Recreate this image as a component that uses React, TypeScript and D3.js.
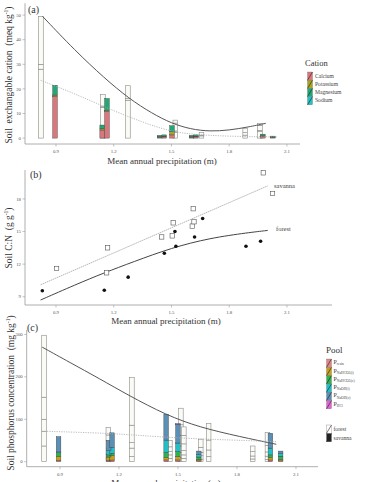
import React from "react";
import * as d3 from "d3";

const FONT = "'Liberation Serif', 'DejaVu Serif', serif";

// ---- (a) exchangeable cations ----
const cationNames = ["Calcium", "Potassium", "Magnesium", "Sodium"];
const cationColors = ["#d8777c", "#a9a324", "#22a877", "#26bfc2"];
const forestCationPrecip = [0.822, 1.144, 1.274, 1.52, 1.656, 1.883, 1.96];
const forestCalcium = [28, 12.5, 15.4, 2.4, 0.9, 1.2, 2.6];
const forestPotassium = [2, 0.5, 0.7, 0.5, 0.3, 1.0, 0.5];
const forestMagnesium = [19.5, 4.8, 5.2, 3.2, 1.1, 1.8, 2.1];
const forestSodium = [0, 0, 0, 1.2, 0, 0, 0.8];
const savannaCationPrecip = [0.895, 1.14, 1.165, 1.44, 1.462, 1.503, 1.605, 1.627, 1.975, 2.027];
const savannaCalcium = [16.8, 3.3, 10.7, 0.4, 0.5, 1.3, 0.4, 0.5, 0.6, 0.3];
const savannaPotassium = [0.7, 0.5, 0.5, 0.2, 0.2, 1.3, 0.2, 0.2, 0.3, 0.1];
const savannaMagnesium = [4.0, 1.5, 4.9, 0.5, 0.6, 2.4, 0.5, 0.6, 0.7, 0.4];
const savannaSodium = [0, 0, 0, 0, 0, 0, 0, 0, 0, 0];
const forestCationFitPrecip = [0.83, 1.0, 1.15, 1.28, 1.4, 1.5, 1.6, 1.7, 1.8, 1.9, 1.99];
const forestCationFit = [49.5, 35.5, 24.5, 16, 10, 6, 3.6, 2.7, 3.2, 4.5, 6.0];
const savannaCationFitPrecip = [0.82, 1.0, 1.2, 1.4, 1.5, 1.6, 1.8, 2.0, 2.05];
const savannaCationFit = [23.5, 18, 11, 5, 2.8, 1.5, 0.7, 0.5, 0.5];

// ---- (b) soil C:N ----
const savannaCnPrecip = [0.903, 1.163, 1.168, 1.449, 1.504, 1.509, 1.608, 1.617, 1.613, 1.977, 2.025];
const savannaCn = [11.6, 11.2, 13.5, 14.5, 14.6, 15.8, 15.5, 15.9, 17.1, 20.4, 18.5];
const forestCnPrecip = [0.829, 1.151, 1.275, 1.463, 1.518, 1.523, 1.62, 1.662, 1.887, 1.963];
const forestCn = [9.55, 9.6, 10.8, 13.0, 15.0, 13.65, 14.5, 16.2, 13.65, 14.1];
const savannaCnFitPrecip = [0.82, 2.0];
const savannaCnFit = [10.1, 19.2];
const forestCnFitPrecip = [0.82, 1.0, 1.15, 1.3, 1.5, 1.7, 1.9, 2.0];
const forestCnFit = [8.7, 10.1, 11.2, 12.2, 13.5, 14.4, 14.9, 15.1];

// ---- (c) soil phosphorus ----
const poolSubs = ["resin", "NaHCO3(i)", "NaHCO3(o)", "NaOH(i)", "NaOH(o)", "HCl"];
const poolColors = ["#e2868c", "#c9a01a", "#2eb34d", "#22bfc7", "#5b8fb5", "#e263d2"];
const forestPPrecip = [0.819, 1.146, 1.266, 1.459, 1.515, 1.53, 1.616, 1.656, 1.88, 1.955];
const forestPResin = [37, 8, 12, 8, 10, 8, 6, 12, 6.4, 5];
const forestPBicarbI = [34, 10, 20, 8, 12, 8, 8, 15.6, 7, 8];
const forestPBicarbO = [29, 14, 13, 7.6, 15, 10, 8, 23.4, 10.2, 10];
const forestPHydroxI = [52, 17, 41, 11.4, 25, 16, 12, 39.5, 13.4, 15];
const forestPHydroxO = [146, 14, 112, 14.5, 25, 20, 19, 0, 0, 31];
const forestPHcl = [0, 18, 0, 0, 39, 20, 0, 0, 0, 0];
const savannaPPrecip = [0.893, 1.148, 1.165, 1.44, 1.5, 1.606, 1.97, 2.022];
const savannaPResin = [3, 3, 4, 4, 4, 2, 4, 2];
const savannaPBicarbI = [9, 8, 10, 6, 8, 3, 6, 3];
const savannaPBicarbO = [9, 5, 6, 12, 12, 6, 6, 8];
const savannaPHydroxI = [2, 10, 14, 29, 20, 6, 16, 6];
const savannaPHydroxO = [36, 24, 34, 61, 44, 8, 35, 6];
const savannaPHcl = [0, 0, 0, 0, 2, 0, 0, 0];
const forestPFitPrecip = [0.81, 0.95, 1.1, 1.25, 1.44, 1.61, 1.815, 2.0];
const forestPFit = [270, 234, 196, 156, 110, 81, 59, 41];
const savannaPFitPrecip = [0.81, 1.15, 1.3, 1.5, 1.7, 1.85, 2.0];
const savannaPFit = [72, 67, 62, 56, 52, 50, 47];

const precipTicks = [0.9, 1.2, 1.5, 1.8, 2.1];

function StackedBars({ precip, parts, colors, x, y, width, forest }: any) {
  const rows = precip.map((p: number, i: number) => {
    const r: any = { p };
    parts.forEach((arr: number[], k: number) => (r["k" + k] = arr[i]));
    return r;
  });
  const keys = parts.map((_: any, k: number) => "k" + k);
  const series = d3.stack().keys(keys)(rows);
  return (
    <g>
      {series.map((s: any, k: number) =>
        s.map((d: any, i: number) => {
          const h = y(d[0]) - y(d[1]);
          if (h <= 0.01) return null;
          return (
            <rect
              key={k + "-" + i}
              x={x(rows[i].p) - width / 2}
              y={y(d[1])}
              width={width}
              height={h}
              fill={forest ? "#fbfbf6" : colors[k]}
              stroke={forest ? "#8a8a8a" : "#3a3a3a"}
              strokeWidth={forest ? 0.6 : 0.4}
            />
          );
        })
      )}
    </g>
  );
}

function Axes({ x, y, yTicks }: any) {
  const [x0, x1] = x.range();
  const [y1, y0] = y.range();
  return (
    <g fontFamily={FONT} fill="#555">
      <line x1={x0} x2={x0} y1={y0} y2={y1} stroke="#9a9a9a" strokeWidth={0.8} />
      <line x1={x0} x2={x1} y1={y1} y2={y1} stroke="#9a9a9a" strokeWidth={0.8} />
      {yTicks.map((t: number) => (
        <g key={"y" + t}>
          <line x1={x0 - 2.5} x2={x0} y1={y(t)} y2={y(t)} stroke="#9a9a9a" strokeWidth={0.6} />
          <text x={x0 - 4} y={y(t) + 1.6} fontSize={4.8} textAnchor="end">{t}</text>
        </g>
      ))}
      {precipTicks.map((t) => (
        <g key={"x" + t}>
          <line x1={x(t)} x2={x(t)} y1={y1} y2={y1 + 2.5} stroke="#9a9a9a" strokeWidth={0.6} />
          <text x={x(t)} y={y1 + 9} fontSize={4.8} textAnchor="middle">{t.toFixed(1)}</text>
        </g>
      ))}
    </g>
  );
}

function XTitle({ cx, y }: any) {
  return (
    <text x={cx} y={y} fontFamily={FONT} fontSize={9} fill="#333" textAnchor="middle">
      Mean annual precipitation (m)
    </text>
  );
}

function YTitle({ x, cy, main, unit }: any) {
  return (
    <text
      transform={`translate(${x},${cy}) rotate(-90)`}
      fontFamily={FONT}
      fontSize={9.5}
      fill="#333"
      textAnchor="middle"
      style={{ whiteSpace: "pre" }}
    >
      {main + "  (" + unit}
      <tspan fontSize={5.5} dy={-3.5}>-1</tspan>
      <tspan dy={3.5}>)</tspan>
    </text>
  );
}

function Key({ x, y, w, h, fill }: any) {
  return (
    <g>
      <rect x={x} y={y} width={w} height={h} fill={fill} stroke="#666" strokeWidth={0.3} />
      <line x1={x} y1={y + h} x2={x + w} y2={y} stroke="#222" strokeWidth={0.6} />
    </g>
  );
}

function fitPath(px: number[], vals: number[], x: any, y: any) {
  const pts = px.map((p, i) => [p, vals[i]] as [number, number]);
  return d3
    .line<[number, number]>()
    .x((d) => x(d[0]))
    .y((d) => y(d[1]))
    .curve(d3.curveBasis)(pts) as string;
}

export default function App() {
  // panel (a)
  const xa = d3.scaleLinear().domain([0.739, 2.168]).range([25, 300]);
  const ya = d3.scaleLinear().domain([-2.4, 54.8]).range([144, 3.3]);
  // panel (b)
  const xb = d3.scaleLinear().domain([0.739, 2.334]).range([25, 332]);
  const yb = d3.scaleLinear().domain([8.24, 20.66]).range([305, 170]);
  // panel (c)
  const xc = d3.scaleLinear().domain([0.731, 2.212]).range([26.7, 318]);
  const yc = d3.scaleLinear().domain([-11.8, 310.4]).range([466.7, 330]);

  const barW = 4.6;

  return (
    <svg width={366} height={482} style={{ position: "absolute", left: 0, top: 0, background: "#fff" }}>
      <rect width={366} height={482} fill="#fff" />

      {/* (a) */}
      <text x={28} y={13} fontFamily={FONT} fontSize={10} fill="#333">(a)</text>
      <StackedBars precip={forestCationPrecip} parts={[forestCalcium, forestPotassium, forestMagnesium, forestSodium]} colors={cationColors} x={xa} y={ya} width={barW} forest />
      <StackedBars precip={savannaCationPrecip} parts={[savannaCalcium, savannaPotassium, savannaMagnesium, savannaSodium]} colors={cationColors} x={xa} y={ya} width={barW} />
      <path d={fitPath(forestCationFitPrecip, forestCationFit, xa, ya)} fill="none" stroke="#555" strokeWidth={1} />
      <path d={fitPath(savannaCationFitPrecip, savannaCationFit, xa, ya)} fill="none" stroke="#aaa" strokeWidth={0.8} strokeDasharray="1.2,1.2" />
      <Axes x={xa} y={ya} yTicks={[0, 10, 20, 30, 40, 50]} />
      <XTitle cx={162} y={163.5} />
      <YTitle x={11.5} cy={75} main="Soil  exchangable cation" unit="meq kg" />
      <text x={305} y={66} fontFamily={FONT} fontSize={8.5} fill="#333">Cation</text>
      {cationNames.map((n, i) => (
        <g key={n}>
          <Key x={307.5} y={72 + i * 8.2} w={5} h={8.2} fill={cationColors[i]} />
          <text x={315} y={72 + i * 8.2 + 5.6} fontFamily={FONT} fontSize={5.6} fill="#444">{n}</text>
        </g>
      ))}

      {/* (b) */}
      <text x={30} y={178} fontFamily={FONT} fontSize={10} fill="#333">(b)</text>
      <path d={fitPath(savannaCnFitPrecip, savannaCnFit, xb, yb)} fill="none" stroke="#999" strokeWidth={0.7} strokeDasharray="1.6,0.6" />
      <path d={fitPath(forestCnFitPrecip, forestCnFit, xb, yb)} fill="none" stroke="#444" strokeWidth={1} />
      {savannaCnPrecip.map((p, i) => (
        <rect key={"s" + i} x={xb(p) - 2.2} y={yb(savannaCn[i]) - 2.2} width={4.4} height={4.4} fill="#fff" stroke="#555" strokeWidth={0.6} />
      ))}
      {forestCnPrecip.map((p, i) => (
        <circle key={"f" + i} cx={xb(p)} cy={yb(forestCn[i])} r={1.8} fill="#111" />
      ))}
      <text x={274} y={188} fontFamily={FONT} fontSize={6.5} fill="#444">savanna</text>
      <text x={276} y={231} fontFamily={FONT} fontSize={6.5} fill="#444">forest</text>
      <Axes x={xb} y={yb} yTicks={[9, 12, 15, 18]} />
      <XTitle cx={166} y={323.5} />
      <YTitle x={11.5} cy={238} main="Soil C:N" unit="g g" />

      {/* (c) */}
      <text x={27} y={331} fontFamily={FONT} fontSize={10} fill="#333">(c)</text>
      <StackedBars precip={forestPPrecip} parts={[forestPResin, forestPBicarbI, forestPBicarbO, forestPHydroxI, forestPHydroxO, forestPHcl]} colors={poolColors} x={xc} y={yc} width={barW} forest />
      <StackedBars precip={savannaPPrecip} parts={[savannaPResin, savannaPBicarbI, savannaPBicarbO, savannaPHydroxI, savannaPHydroxO, savannaPHcl]} colors={poolColors} x={xc} y={yc} width={barW} />
      <path d={fitPath(forestPFitPrecip, forestPFit, xc, yc)} fill="none" stroke="#555" strokeWidth={1} />
      <path d={fitPath(savannaPFitPrecip, savannaPFit, xc, yc)} fill="none" stroke="#aaa" strokeWidth={0.8} strokeDasharray="1.2,1.2" />
      <Axes x={xc} y={yc} yTicks={[0, 100, 200, 300]} />
      <XTitle cx={166} y={485.5} />
      <YTitle x={13.5} cy={393} main="Soil phosphorus concentration" unit="mg kg" />
      <text x={326} y={353} fontFamily={FONT} fontSize={9} fill="#333">Pool</text>
      {poolSubs.map((s, i) => (
        <g key={s}>
          <Key x={326.5} y={359 + i * 8.3} w={5} h={8.3} fill={poolColors[i]} />
          <text x={333.5} y={359 + i * 8.3 + 5.2} fontFamily={FONT} fontSize={6} fill="#444">
            P<tspan fontSize={3.6} dy={1.2}>{s}</tspan>
          </text>
        </g>
      ))}
      <Key x={326.5} y={425} w={5} h={8.3} fill="#fff" />
      <text x={333.5} y={431} fontFamily={FONT} fontSize={5.6} fill="#444">forest</text>
      <Key x={326.5} y={433.5} w={5} h={8.3} fill="#222" />
      <text x={333.5} y={439.5} fontFamily={FONT} fontSize={5.6} fill="#444">savanna</text>
    </svg>
  );
}
